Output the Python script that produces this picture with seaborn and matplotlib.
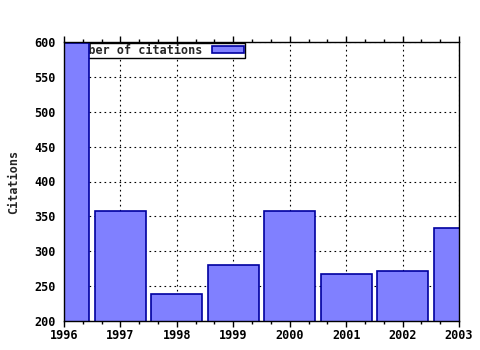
import matplotlib
matplotlib.use("Agg")
import matplotlib.pyplot as plt
import seaborn as sns
import pandas as pd
from matplotlib.ticker import MultipleLocator

years = ["1996", "1997", "1998", "1999", "2000", "2001", "2002", "2003"]
citations = [598, 357, 239, 280, 357, 267, 271, 333]
series_label = "Number of citations"

sns.set_theme(style="white")
plt.rcParams["font.family"] = ["DejaVu Sans Mono", "DejaVu Sans"]
plt.rcParams["font.weight"] = "bold"

df = pd.DataFrame({"year": years, "citations": citations})

fig = plt.figure(figsize=(4.8, 3.5), dpi=100)
ax = fig.add_axes([64/480, 29/350, 395/480, 279/350])

sns.barplot(data=df, x="year", y="citations", order=years, ax=ax,
            color="#8080ff", saturation=1, width=0.9,
            edgecolor="#0000a0", linewidth=1.2, label=series_label)
for p in ax.patches:
    p.set_zorder(2)

ax.set_xlim(0, 7)
ax.set_ylim(200, 600)
ax.yaxis.set_major_locator(MultipleLocator(50))
ax.xaxis.set_major_locator(MultipleLocator(1))
ax.xaxis.set_minor_locator(MultipleLocator(1/3))
ax.set_xticks(range(len(years)))
ax.set_xticklabels(years)
ax.set_xlabel("")
ax.set_ylabel("Citations", fontsize=8.5, fontweight="bold", labelpad=10)

ax.set_axisbelow(True)
ax.grid(True, which="major", color="black", linestyle=(0, (1.5, 3)), linewidth=0.8)

for s in ax.spines.values():
    s.set_color("black")
    s.set_linewidth(1.0)

ax.tick_params(axis="both", which="major", direction="out", length=4, width=1,
               color="black", labelsize=8.5, labelcolor="black", pad=2)
ax.tick_params(axis="x", which="major", top=True, bottom=True)
ax.tick_params(axis="x", which="minor", direction="out", length=2, width=1,
               color="black", top=True, bottom=True)
for lab in ax.get_xticklabels() + ax.get_yticklabels():
    lab.set_fontweight("bold")

leg = ax.legend(loc="upper left", bbox_to_anchor=(66/480, 1 - 43/350),
                bbox_transform=fig.transFigure, borderaxespad=0,
                frameon=True, fancybox=False, framealpha=1, edgecolor="black",
                markerfirst=False, handlelength=2.7, handleheight=0.55,
                handletextpad=0.8, borderpad=0.08,
                prop={"family": "DejaVu Sans Mono", "weight": "bold", "size": 8.5})
leg.get_frame().set_linewidth(1.0)
leg.set_zorder(1)

fig.savefig("out.png", dpi=100)
